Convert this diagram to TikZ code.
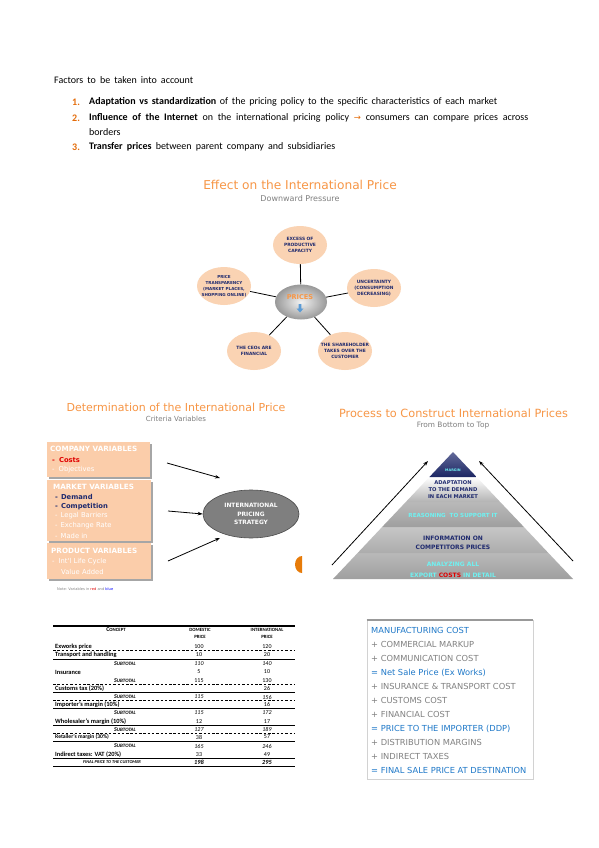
\documentclass[tikz,border=0pt]{standalone}
\usepackage{fontspec}
\setmainfont{Carlito}
\newfontfamily\dv{DejaVu Sans}
\usetikzlibrary{shapes.geometric,arrows.meta}
\definecolor{ttlor}{HTML}{F79646}
\definecolor{numor}{HTML}{E46C0A}
\definecolor{peach}{HTML}{FAD3B3}
\definecolor{peachbox}{HTML}{FBCDAA}
\definecolor{navy}{HTML}{1F2A6E}
\definecolor{cyanT}{HTML}{6FF2F2}
\definecolor{lblue}{HTML}{1E78C8}
\definecolor{lgray}{HTML}{808080}
\definecolor{subgray}{HTML}{7F7F7F}
\definecolor{ellgray}{HTML}{7F7F7F}
\definecolor{arrblue}{HTML}{5B9BD5}
\definecolor{costred}{HTML}{E00000}
\begin{document}
\begin{tikzpicture}[x=1pt,y=-1pt,
  body/.style={anchor=west,inner sep=0,font=\fontsize{10}{11}\selectfont},
  ttl/.style={inner sep=0,text=ttlor,font=\dv\fontsize{11}{13}\selectfont},
  subt/.style={inner sep=0,text=subgray,font=\dv\fontsize{7.3}{8}\selectfont},
  eff/.style={ellipse,fill=peach,inner sep=0,minimum width=54,minimum height=38},
  efft/.style={inner sep=0,align=center,text=navy,font=\dv\bfseries\fontsize{4.4}{6.3}\selectfont},
  link/.style={draw=black,line width=0.8pt},
  boxhd/.style={anchor=west,inner sep=0,text=white,font=\dv\bfseries\fontsize{7.2}{8}\selectfont},
  boxit/.style={anchor=west,inner sep=0,text=white,font=\dv\fontsize{6.8}{7}\selectfont},
  boxbold/.style={boxit,font=\dv\bfseries\fontsize{6.8}{7}\selectfont},
  arr/.style={-{Stealth[length=5pt,width=3.5pt]},line width=0.8pt},
  pyrt/.style={inner sep=0,align=center,font=\dv\bfseries\fontsize{5.6}{8}\selectfont},
  tlab/.style={anchor=west,inner sep=0,font=\bfseries\fontsize{6.4}{7}\selectfont},
  tnum/.style={inner sep=0,font=\fontsize{6}{7}\selectfont},
  tnumi/.style={inner sep=0,font=\itshape\fontsize{6}{7}\selectfont},
  tsub/.style={inner sep=0,font=\bfseries\itshape\fontsize{5}{6}\selectfont},
  thd/.style={inner sep=0,align=center,font=\bfseries\fontsize{4.8}{7}\selectfont},
  tline/.style={line width=0.6pt},
  tdash/.style={line width=0.6pt,dash pattern=on 2.5pt off 1.8pt},
  lst/.style={anchor=west,inner sep=0,font=\dv\fontsize{8.3}{9}\selectfont}
]
\fill[white] (0,0) rectangle (599,848);
\useasboundingbox (0,0) rectangle (599,848);

% ---------------- intro text
\node[body] (intro) at (54,80) {\hbox to 139pt{Factors to be taken into account}};
\node[body,text=numor,font=\bfseries\fontsize{10}{11}\selectfont] (n1) at (72,102) {1.};
\node[body] (i1) at (89,102) {\hbox to 408pt{\textbf{Adaptation vs standardization} of the pricing policy to the specific characteristics of each market}};
\node[body,text=numor,font=\bfseries\fontsize{10}{11}\selectfont] (n2) at (72,118) {2.};
\node[body] (i2) at (89,118) {\hbox to 439pt{\textbf{Influence of the Internet} on the international pricing policy {\color{numor}\dv\fontsize{8.5}{9}\selectfont →} consumers can compare prices across}};
\node[body] (i2b) at (89,132) {borders};
\node[body,text=numor,font=\bfseries\fontsize{10}{11}\selectfont] (n3) at (72,147) {3.};
\node[body] (i3) at (89,147) {\hbox to 246pt{\textbf{Transfer prices} between parent company and subsidiaries}};

% ---------------- Effect on the International Price
\node[ttl,font=\dv\fontsize{12.2}{14}\selectfont] (t1) at (300,185) {Effect on the International Price};
\node[subt,font=\dv\fontsize{8}{9}\selectfont] (s1) at (300,199) {Downward Pressure};
\node[eff] (etop) at (300,245) {};
\node[eff] (eul) at (224,286) {};
\node[eff] (eur) at (374,288) {};
\node[eff] (ell) at (254,351) {};
\node[eff] (elr) at (345,351) {};
\node[ellipse,inner sep=0,minimum width=52,minimum height=35,shade,shading=radial,inner color=gray!10,outer color=gray!80] (ec) at (301,302) {};
\draw[link] (ec) -- (etop);
\draw[link] (ec) -- (eul);
\draw[link] (ec) -- (eur);
\draw[link] (ec) -- (ell);
\draw[link] (ec) -- (elr);
\node[efft] at (etop) {EXCESS OF\\PRODUCTIVE\\CAPACITY};
\node[efft,font=\dv\bfseries\fontsize{4.1}{6}\selectfont] at (eul) {PRICE\\TRANSPARENCY\\(MARKET PLACES,\\SHOPPING ONLINE)};
\node[efft] at (eur) {UNCERTAINTY\\(CONSUMPTION\\DECREASING)};
\node[efft] at (ell) {THE CEOs ARE\\FINANCIAL};
\node[efft] at (elr) {THE SHAREHOLDER\\TAKES OVER THE\\CUSTOMER};
\node[inner sep=0,text=ttlor,font=\dv\bfseries\fontsize{6.6}{7}\selectfont] (prices) at (300,297) {PRICES};
\fill[arrblue] (298.6,304) rectangle (301.4,308.5) (296.5,308.5) -- (303.5,308.5) -- (300,312.5) -- cycle;

% ---------------- Determination of the International Price
\node[ttl] (t2) at (176,407) {Determination of the International Price};
\node[subt,font=\dv\fontsize{7}{8}\selectfont] (s2) at (176,419) {Criteria Variables};
\fill[gray!70] (48.5,443.5) rectangle (151.5,478.5);
\fill[peachbox] (47,442) rectangle (150,477);
\fill[gray!70] (48.5,481.5) rectangle (152.5,542.5);
\fill[peachbox] (47,480) rectangle (151,541);
\fill[gray!70] (48.5,544.5) rectangle (152.5,580.5);
\fill[peachbox] (47,543) rectangle (151,579);
\node[boxhd] (ch) at (50,449) {COMPANY VARIABLES};
\node[boxbold,text=costred] (c1) at (52,460) {-\hspace{4pt}Costs};
\node[boxit] (c2) at (52,470) {-\hspace{4pt}Objectives};
\node[boxhd] (mh) at (53,487) {MARKET VARIABLES};
\node[boxbold,text=navy] (m1) at (55,497) {-\hspace{3pt}Demand};
\node[boxbold,text=navy] (m2) at (55,507) {-\hspace{3pt}Competition};
\node[boxit] (m3) at (55,516) {-\hspace{3pt}Legal Barriers};
\node[boxit] (m4) at (55,526) {-\hspace{3pt}Exchange Rate};
\node[boxit] (m5) at (55,535.5) {-\hspace{3pt}Made in};
\node[boxhd] (ph) at (51,551) {PRODUCT VARIABLES};
\node[boxit] (p1) at (52,562) {-\hspace{4pt}Int'l Life Cycle};
\node[boxit] (p2) at (52,572) {\hspace{9pt}Value Added};
\node[anchor=west,inner sep=0,text=gray,font=\dv\fontsize{3.6}{4}\selectfont] (note) at (57,589) {Note: Variables in {\color{costred}red} and {\color{blue}blue}};
\node[ellipse,fill=ellgray,draw=gray!60!black,line width=0.6pt,inner sep=0,minimum width=96,minimum height=48] (ips) at (251,514) {};
\node[inner sep=0,align=center,text=white,font=\dv\bfseries\fontsize{5.9}{8.5}\selectfont] at (ips) {INTERNATIONAL\\PRICING\\STRATEGY};
\coordinate (a1s) at (167,463);
\coordinate (a1e) at (220,478);
\coordinate (a2s) at (168,511);
\coordinate (a3s) at (168,561);
\coordinate (a3e) at (220,538);
\draw[arr] (a1s) -- (a1e);
\draw[arr] (a2s) -- (ips.west);
\draw[arr] (a3s) -- (a3e);
\fill[numor!90!yellow] (302,573) arc[start angle=90,end angle=270,x radius=7,y radius=8.5] -- cycle;

% ---------------- Process to construct
\node[ttl,font=\dv\fontsize{11.3}{13}\selectfont] (t3) at (453.5,413) {Process to Construct International Prices};
\node[subt,font=\dv\fontsize{7.4}{8}\selectfont] (s3) at (453,426) {From Bottom to Top};
\shade[top color=gray!55,bottom color=gray!75] (357.6,553) -- (548.4,553) -- (573,579) -- (333,579) -- cycle;
\shade[top color=gray!45,middle color=white,bottom color=gray!65] (382.1,527) -- (523.9,527) -- (548.4,553) -- (357.6,553) -- cycle;
\shade[top color=gray!55,bottom color=gray!75] (405.8,502) -- (500.2,502) -- (523.9,527) -- (382.1,527) -- cycle;
\shade[top color=white,bottom color=gray!60] (429.4,477) -- (476.6,477) -- (500.2,502) -- (405.8,502) -- cycle;
\shade[top color=navy!70,bottom color=navy!90!black] (453,452) -- (476.6,477) -- (429.4,477) -- cycle;
\node[pyrt,text=cyanT,font=\dv\bfseries\fontsize{3.4}{4}\selectfont] (py1) at (453,470) {MARGIN};
\node[pyrt,text=navy,font=\dv\bfseries\fontsize{5.2}{7.3}\selectfont] (py2) at (453,489.5) {ADAPTATION\\TO THE DEMAND\\IN EACH MARKET};
\node[pyrt,text=cyanT] (py3) at (453,515) {REASONING\ \ TO SUPPORT IT};
\node[pyrt,text=navy,font=\dv\bfseries\fontsize{6}{9}\selectfont] (py4) at (453,542.5) {INFORMATION ON\\COMPETITORS PRICES};
\node[pyrt,text=cyanT,font=\dv\bfseries\fontsize{6}{11}\selectfont] (py5) at (453,569.5) {ANALYZING ALL\\EXPORT {\color{costred}COSTS} IN DETAIL};
\coordinate (l1) at (332,565);
\coordinate (l2) at (428,461);
\coordinate (r1) at (573,561);
\coordinate (r2) at (479,461);
\draw[arr] (l1) -- (l2);
\draw[arr] (r1) -- (r2);

% ---------------- table
\draw[line width=1.2pt] (53,626) -- (295,626);
\node[thd] (hc) at (116,630) {{\fontsize{6}{7}\selectfont C}ONCEPT};
\node[thd] (hd) at (200,633.5) {DOMESTIC\\PRICE};
\node[thd] (hi) at (267,633.5) {INTERNATIONAL\\PRICE};
\node[tlab] (r1l) at (55,646.5) {Exworks price};
\node[tnum] at (199,646.5) {100}; \node[tnum] at (267,646.5) {120};
\draw[tdash] (53,650) -- (295,650);
\node[tlab] (r2l) at (55,655) {Transport and handling};
\node[tnum] at (199,655) {10}; \node[tnum] at (267,655) {20};
\draw[tline] (53,659) -- (295,659);
\node[tsub] at (125,663.5) {{\fontsize{6}{7}\selectfont S}UBTOTAL};
\node[tnumi] at (199,663.5) {110}; \node[tnumi] at (267,663.5) {140};
\node[tlab] (r3l) at (55,672) {Insurance};
\node[tnum] at (199,672) {5}; \node[tnum] at (267,672) {10};
\node[tsub] at (125,680.5) {{\fontsize{6}{7}\selectfont S}UBTOTAL};
\node[tnum] at (199,680.5) {115}; \node[tnum] at (267,680.5) {130};
\draw[tdash] (53,684.5) -- (295,684.5);
\node[tlab] (r4l) at (55,688.5) {Customs tax (20\%)};
\node[tnum] at (267,688.5) {26};
\draw[tline] (53,692) -- (295,692);
\node[tsub] at (125,697) {{\fontsize{6}{7}\selectfont S}UBTOTAL};
\node[tnumi] at (199,697) {115}; \node[tnumi] at (267,697) {156};
\draw[tdash] (53,700.5) -- (295,700.5);
\node[tlab] (r5l) at (55,704.5) {Importer's margin (10\%)};
\node[tnum] at (267,704.5) {16};
\draw[tline] (53,708) -- (295,708);
\node[tsub] at (125,713) {{\fontsize{6}{7}\selectfont S}UBTOTAL};
\node[tnumi] at (199,713) {115}; \node[tnumi] at (267,713) {172};
\node[tlab] (r6l) at (55,721.5) {Wholesaler's margin (10\%)};
\node[tnum] at (199,721.5) {12}; \node[tnum] at (267,721.5) {17};
\draw[tline] (53,725.5) -- (295,725.5);
\node[tsub] at (125,729.5) {{\fontsize{6}{7}\selectfont S}UBTOTAL};
\node[tnumi] at (199,729.5) {127}; \node[tnumi] at (267,729.5) {189};
\draw[tdash] (53,733) -- (295,733);
\node[tlab,font=\bfseries\fontsize{5.6}{7}\selectfont] (r7l) at (55,737) {Retailer's margin (30\%)};
\node[tnum] at (199,737) {38}; \node[tnum] at (267,737) {57};
\draw[tline] (53,741) -- (295,741);
\node[tsub] at (125,746) {{\fontsize{6}{7}\selectfont S}UBTOTAL};
\node[tnumi] at (199,746) {165}; \node[tnumi] at (267,746) {246};
\node[tlab] (r8l) at (55,754.5) {Indirect taxes: VAT (20\%)};
\node[tnum] at (199,754.5) {33}; \node[tnum] at (267,754.5) {49};
\draw[tline] (53,758) -- (295,758);
\node[tsub,font=\bfseries\itshape\fontsize{4.4}{6}\selectfont] at (112,762) {FINAL PRICE TO THE CUSTOMER};
\node[tnum,font=\bfseries\itshape\fontsize{6.3}{7}\selectfont] at (199,762) {198}; \node[tnum,font=\bfseries\itshape\fontsize{6.3}{7}\selectfont] at (267,762) {295};
\draw[line width=1.2pt] (53,766.5) -- (295,766.5);

% ---------------- list box
\draw[gray!35,line width=0.7pt] (367,620) -- (367,779) -- (533,779) -- (533,620);
\draw[gray!80,line width=1.4pt] (366.6,620) -- (533.4,620);
\node[lst,text=lblue] (b1) at (371,630) {MANUFACTURING COST};
\node[lst,text=lgray] (b2) at (371,644) {+ COMMERCIAL MARKUP};
\node[lst,text=lgray] (b3) at (371,658) {+ COMMUNICATION COST};
\node[lst,text=lblue] (b4) at (371,672.5) {= Net Sale Price (Ex Works)};
\node[lst,text=lgray] (b5) at (371,686.5) {+ INSURANCE \& TRANSPORT COST};
\node[lst,text=lgray] (b6) at (371,700.5) {+ CUSTOMS COST};
\node[lst,text=lgray] (b7) at (371,714.5) {+ FINANCIAL COST};
\node[lst,text=lblue] (b8) at (371,728.5) {= PRICE TO THE IMPORTER (DDP)};
\node[lst,text=lgray] (b9) at (371,742.5) {+ DISTRIBUTION MARGINS};
\node[lst,text=lgray] (b10) at (371,756.5) {+ INDIRECT TAXES};
\node[lst,text=lblue] (b11) at (371,770.5) {= FINAL SALE PRICE AT DESTINATION};
\end{tikzpicture}
\end{document}
